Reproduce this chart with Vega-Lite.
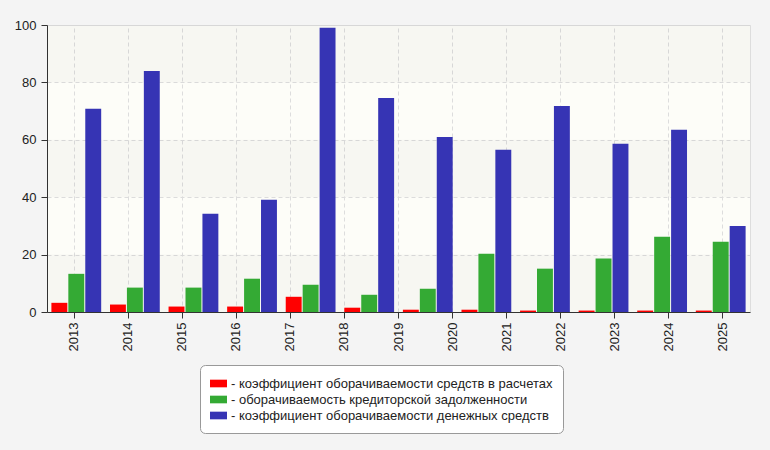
{
  "$schema": "https://vega.github.io/schema/vega-lite/v6.json",
  "width": 703,
  "height": 287,
  "autosize": {"type": "none"},
  "padding": {"left": 47, "top": 25, "right": 20, "bottom": 138},
  "background": "#f4f4f4",
  "datasets": {
    "bars": [
      {"group": "2013", "series": "коэффициент оборачиваемости средств в расчетах", "value": 3.2},
      {"group": "2013", "series": "оборачиваемость кредиторской задолженности", "value": 13.3},
      {"group": "2013", "series": "коэффициент оборачиваемости денежных средств", "value": 70.8},
      {"group": "2014", "series": "коэффициент оборачиваемости средств в расчетах", "value": 2.6},
      {"group": "2014", "series": "оборачиваемость кредиторской задолженности", "value": 8.5},
      {"group": "2014", "series": "коэффициент оборачиваемости денежных средств", "value": 84.0},
      {"group": "2015", "series": "коэффициент оборачиваемости средств в расчетах", "value": 1.9},
      {"group": "2015", "series": "оборачиваемость кредиторской задолженности", "value": 8.5},
      {"group": "2015", "series": "коэффициент оборачиваемости денежных средств", "value": 34.2},
      {"group": "2016", "series": "коэффициент оборачиваемости средств в расчетах", "value": 1.9},
      {"group": "2016", "series": "оборачиваемость кредиторской задолженности", "value": 11.6},
      {"group": "2016", "series": "коэффициент оборачиваемости денежных средств", "value": 39.1},
      {"group": "2017", "series": "коэффициент оборачиваемости средств в расчетах", "value": 5.3},
      {"group": "2017", "series": "оборачиваемость кредиторской задолженности", "value": 9.5},
      {"group": "2017", "series": "коэффициент оборачиваемости денежных средств", "value": 99.0},
      {"group": "2018", "series": "коэффициент оборачиваемости средств в расчетах", "value": 1.5},
      {"group": "2018", "series": "оборачиваемость кредиторской задолженности", "value": 6.0},
      {"group": "2018", "series": "коэффициент оборачиваемости денежных средств", "value": 74.6},
      {"group": "2019", "series": "коэффициент оборачиваемости средств в расчетах", "value": 0.8},
      {"group": "2019", "series": "оборачиваемость кредиторской задолженности", "value": 8.1},
      {"group": "2019", "series": "коэффициент оборачиваемости денежных средств", "value": 61.0},
      {"group": "2020", "series": "коэффициент оборачиваемости средств в расчетах", "value": 0.8},
      {"group": "2020", "series": "оборачиваемость кредиторской задолженности", "value": 20.3},
      {"group": "2020", "series": "коэффициент оборачиваемости денежных средств", "value": 56.5},
      {"group": "2021", "series": "коэффициент оборачиваемости средств в расчетах", "value": 0.5},
      {"group": "2021", "series": "оборачиваемость кредиторской задолженности", "value": 15.1},
      {"group": "2021", "series": "коэффициент оборачиваемости денежных средств", "value": 71.8},
      {"group": "2022", "series": "коэффициент оборачиваемости средств в расчетах", "value": 0.5},
      {"group": "2022", "series": "оборачиваемость кредиторской задолженности", "value": 18.6},
      {"group": "2022", "series": "коэффициент оборачиваемости денежных средств", "value": 58.6},
      {"group": "2023", "series": "коэффициент оборачиваемости средств в расчетах", "value": 0.5},
      {"group": "2023", "series": "оборачиваемость кредиторской задолженности", "value": 26.2},
      {"group": "2023", "series": "коэффициент оборачиваемости денежных средств", "value": 63.5},
      {"group": "2024", "series": "коэффициент оборачиваемости средств в расчетах", "value": 0.5},
      {"group": "2024", "series": "оборачиваемость кредиторской задолженности", "value": 24.5},
      {"group": "2024", "series": "коэффициент оборачиваемости денежных средств", "value": 30.0}
    ],
    "years": [
      {"year": "2013"}, {"year": "2014"}, {"year": "2015"}, {"year": "2016"},
      {"year": "2017"}, {"year": "2018"}, {"year": "2019"}, {"year": "2020"},
      {"year": "2021"}, {"year": "2022"}, {"year": "2023"}, {"year": "2024"},
      {"year": "2025"}
    ],
    "bands": [
      {"from": 0, "to": 20},
      {"from": 40, "to": 60},
      {"from": 80, "to": 100}
    ]
  },
  "layer": [
    {
      "data": {"name": "bands"},
      "mark": {"type": "rect", "color": "#000000", "opacity": 0.025},
      "encoding": {
        "y": {
          "field": "from",
          "type": "quantitative",
          "scale": {"domain": [0, 100], "nice": false},
          "title": null,
          "axis": {"values": [0, 20, 40, 60, 80, 100]}
        },
        "y2": {"field": "to"}
      }
    },
    {
      "data": {"name": "years"},
      "mark": {"type": "rule", "opacity": 0},
      "encoding": {
        "x": {
          "field": "year",
          "type": "ordinal",
          "scale": {"type": "band", "paddingInner": 0, "paddingOuter": 0},
          "title": null,
          "axis": {
            "labelAngle": -90,
            "labelAlign": "right",
            "labelBaseline": "middle",
            "labelPadding": 4,
            "tickSize": 6,
            "grid": true
          }
        }
      }
    },
    {
      "data": {"name": "bars"},
      "mark": {"type": "bar"},
      "encoding": {
        "x": {
          "field": "group",
          "type": "nominal",
          "scale": {"paddingInner": 0.15, "paddingOuter": 0.075},
          "axis": null
        },
        "xOffset": {
          "field": "series",
          "type": "nominal",
          "sort": [
            "коэффициент оборачиваемости средств в расчетах",
            "оборачиваемость кредиторской задолженности",
            "коэффициент оборачиваемости денежных средств"
          ],
          "scale": {"paddingInner": 0.06}
        },
        "y": {
          "field": "value",
          "type": "quantitative",
          "scale": {"domain": [0, 100], "nice": false},
          "title": null,
          "axis": {"values": [0, 20, 40, 60, 80, 100]}
        },
        "color": {
          "field": "series",
          "type": "nominal",
          "scale": {
            "domain": [
              "коэффициент оборачиваемости средств в расчетах",
              "оборачиваемость кредиторской задолженности",
              "коэффициент оборачиваемости денежных средств"
            ],
            "range": ["#ff0000", "#34aa34", "#3634b4"]
          },
          "legend": {
            "title": null,
            "orient": "none",
            "legendX": 153,
            "legendY": 340,
            "direction": "vertical",
            "labelExpr": "'- ' + datum.label"
          }
        }
      }
    }
  ],
  "resolve": {"scale": {"x": "independent"}},
  "config": {
    "font": "Liberation Sans",
    "view": {"stroke": "#dddddd", "fill": "#fdfdf8"},
    "axis": {
      "labelFont": "Liberation Sans",
      "labelFontSize": 13,
      "labelColor": "#222222",
      "domainColor": "#333333",
      "tickColor": "#333333",
      "gridColor": "#dddddd",
      "gridDash": [4, 3]
    },
    "axisY": {
      "tickSize": 6,
      "labelPadding": 5
    },
    "legend": {
      "labelFont": "Liberation Sans",
      "labelFontSize": 13,
      "labelColor": "#222222",
      "labelLimit": 500,
      "labelOffset": 4,
      "symbolType": "M-1,-0.45L1,-0.45L1,0.45L-1,0.45Z",
      "symbolSize": 289,
      "symbolStrokeWidth": 0,
      "rowPadding": 0,
      "fillColor": "#ffffff",
      "strokeColor": "#999999",
      "cornerRadius": 5,
      "padding": 10
    }
  }
}
